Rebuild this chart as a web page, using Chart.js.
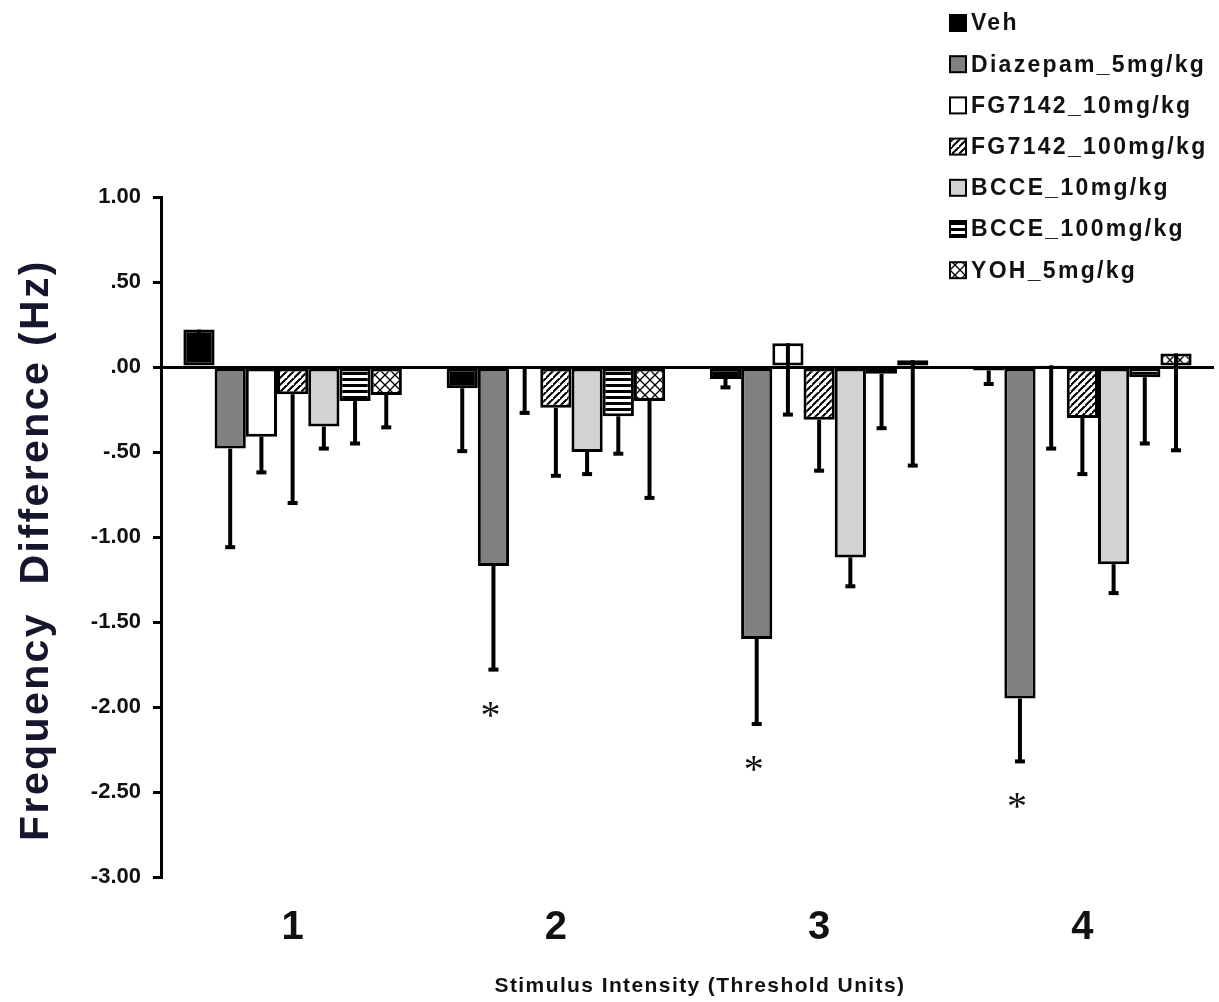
<!DOCTYPE html>
<html lang="en">
<head>
  <meta charset="UTF-8" />
  <title>Frequency Difference</title>
  <script src="https://cdn.jsdelivr.net/npm/chart.js"></script>
  <style>
    body {
      margin: 0;
      background: #ffffff;
      overflow: hidden;
    }
    #wrap {
      position: relative;
      width: 1219px;
      height: 1002px;
    }
  </style>
</head>
<body>
  <div id="wrap">
    <canvas id="freqChart"></canvas>
  </div>

  <script>
    const FONT = "'Liberation Sans', Arial, sans-serif";

    const intensities = ['1', '2', '3', '4'];
    const yTicks = [1, 0.5, 0, -0.5, -1, -1.5, -2, -2.5, -3];
    const xTitle = 'Stimulus Intensity (Threshold Units)';
    const yTitle = 'Frequency  Difference (Hz)';

    // mean frequency difference per group, one entry per stimulus intensity
    const veh        = [0.22, -0.125, -0.07, -0.02];
    const diazepam5  = [-0.48, -1.17, -1.60, -1.95];
    const fg10       = [-0.41, -0.01, 0.14, 0.01];
    const fg100      = [-0.16, -0.24, -0.31, -0.30];
    const bcce10     = [-0.35, -0.50, -1.12, -1.16];
    const bcce100    = [-0.20, -0.29, -0.04, -0.06];
    const yoh5       = [-0.165, -0.20, 0.04, 0.08];

    // SEM (drawn downward from the mean)
    const vehErr       = [0.10, 0.37, 0.05, 0.08];
    const diazepam5Err = [0.58, 0.61, 0.50, 0.37];
    const fg10Err      = [0.21, 0.26, 0.42, 0.49];
    const fg100Err     = [0.64, 0.40, 0.30, 0.33];
    const bcce10Err    = [0.13, 0.13, 0.17, 0.17];
    const bcce100Err   = [0.25, 0.22, 0.32, 0.39];
    const yoh5Err      = [0.19, 0.57, 0.62, 0.57];

    // significance vs vehicle (Diazepam only)
    const diazepamSig = [false, true, true, true];

    function makePattern(size, drawFn) {
      const c = document.createElement('canvas');
      c.width = size;
      c.height = size;
      const p = c.getContext('2d');
      p.fillStyle = '#ffffff';
      p.fillRect(0, 0, size, size);
      p.strokeStyle = '#000000';
      drawFn(p, size);
      return c.getContext('2d').createPattern(c, 'repeat');
    }

    const diagHatch = makePattern(7, (p, s) => {
      p.lineWidth = 2;
      p.beginPath();
      p.moveTo(-1, s + 1); p.lineTo(s + 1, -1);
      p.moveTo(-1 - s, s + 1); p.lineTo(1, -1);
      p.moveTo(s - 1, 2 * s + 1); p.lineTo(2 * s + 1, s - 1);
      p.stroke();
    });

    const hStripes = makePattern(6, (p, s) => {
      p.fillStyle = '#000000';
      p.fillRect(0, 0, s, 3);
    });

    const crossHatch = makePattern(10, (p, s) => {
      p.lineWidth = 1.3;
      p.beginPath();
      p.moveTo(0, 0); p.lineTo(s, s);
      p.moveTo(s, 0); p.lineTo(0, s);
      p.stroke();
    });

    const series = [
      { label: 'Veh',               data: veh,       err: vehErr,       fill: '#000000' },
      { label: 'Diazepam_5mg/kg',   data: diazepam5, err: diazepam5Err, fill: '#808080', sig: diazepamSig },
      { label: 'FG7142_10mg/kg',    data: fg10,      err: fg10Err,      fill: '#ffffff' },
      { label: 'FG7142_100mg/kg',   data: fg100,     err: fg100Err,     fill: diagHatch },
      { label: 'BCCE_10mg/kg',      data: bcce10,    err: bcce10Err,    fill: '#d3d3d3' },
      { label: 'BCCE_100mg/kg',     data: bcce100,   err: bcce100Err,   fill: hStripes },
      { label: 'YOH_5mg/kg',        data: yoh5,      err: yoh5Err,      fill: crossHatch }
    ];

    // whiskers, asterisks, axis titles and the legend block
    const overlayPlugin = {
      id: 'overlay',
      afterDatasetsDraw(chart) {
        const { ctx, scales: { y } } = chart;
        ctx.save();
        chart.data.datasets.forEach((ds, i) => {
          const meta = chart.getDatasetMeta(i);
          meta.data.forEach((bar, j) => {
            const v = ds.data[j];
            const lo = v - ds.errors[j];
            const y0 = y.getPixelForValue(v);
            const y1 = y.getPixelForValue(lo);
            ctx.strokeStyle = '#000';
            ctx.lineWidth = 4;
            ctx.beginPath();
            ctx.moveTo(bar.x, y0);
            ctx.lineTo(bar.x, y1);
            ctx.stroke();
            ctx.fillStyle = '#000';
            ctx.fillRect(bar.x - 5, y1 - 2, 10, 4);

            if (ds.sig && ds.sig[j]) {
              ctx.font = "40px 'Liberation Serif', serif";
              ctx.textAlign = 'center';
              ctx.textBaseline = 'alphabetic';
              ctx.fillStyle = '#111';
              ctx.fillText('*', bar.x - 3, y1 + 36 + 22);
            }
          });
        });
        ctx.restore();
      },
      afterDraw(chart) {
        const { ctx, chartArea } = chart;
        ctx.save();

        // legend
        ctx.font = 'bold 23px ' + FONT;
        ctx.letterSpacing = '2.3px';
        ctx.textBaseline = 'middle';
        ctx.textAlign = 'left';
        chart.data.datasets.forEach((ds, i) => {
          const cy = 23 + i * 41.2;
          ctx.fillStyle = ds.backgroundColor;
          ctx.fillRect(950, cy - 8, 16, 16);
          ctx.strokeStyle = '#000';
          ctx.lineWidth = 2;
          ctx.strokeRect(950, cy - 8, 16, 16);
          ctx.fillStyle = '#111';
          ctx.fillText(ds.label, 971, cy + 1);
        });

        // x title
        ctx.font = 'bold 21px ' + FONT;
        ctx.letterSpacing = '1.4px';
        ctx.textAlign = 'center';
        ctx.fillStyle = '#111';
        ctx.fillText(xTitle, 700, 986);

        // y title
        ctx.translate(37, 550);
        ctx.rotate(-Math.PI / 2);
        ctx.font = 'bold 41px ' + FONT;
        ctx.letterSpacing = '2.4px';
        ctx.fillStyle = '#16162e';
        ctx.fillText(yTitle, 0, 0);

        ctx.restore();
      }
    };

    const ctx = document.getElementById('freqChart').getContext('2d');
    new Chart(ctx, {
      type: 'bar',
      data: {
        labels: intensities,
        datasets: series.map(s => ({
          label: s.label,
          data: s.data,
          errors: s.err,
          sig: s.sig,
          backgroundColor: s.fill,
          borderColor: '#000000',
          borderWidth: 3,
          borderSkipped: false,
          categoryPercentage: 0.83,
          barPercentage: 1.0
        }))
      },
      options: {
        responsive: true,
        maintainAspectRatio: false,
        animation: false,
        layout: { padding: { top: 197, right: 5, bottom: 0, left: 0 } },
        plugins: {
          legend: { display: false },
          tooltip: { enabled: false }
        },
        scales: {
          x: {
            grid: { display: false, drawTicks: false },
            border: { display: false },
            ticks: {
              color: '#111',
              font: { family: FONT, size: 40, weight: 'bold' },
              padding: 27
            },
            afterFit(scale) { scale.height = 125; }
          },
          y: {
            min: -3,
            max: 1,
            afterBuildTicks(scale) {
              scale.ticks = yTicks.map(v => ({ value: v }));
            },
            border: { display: true, color: '#000', width: 3 },
            grid: {
              color: c => (c.tick && c.tick.value === 0 ? '#000' : 'rgba(0,0,0,0)'),
              lineWidth: 3,
              drawTicks: true,
              tickColor: '#000',
              tickLength: 8,
              tickWidth: 3
            },
            ticks: {
              color: '#111',
              padding: 12,
              font: { family: FONT, size: 22, weight: 'bold' },
              callback: v => v.toFixed(2).replace(/^(-?)0\./, '$1.')
            },
            afterFit(scale) { scale.width = 161; }
          }
        }
      },
      plugins: [overlayPlugin]
    });
  </script>
</body>
</html>
